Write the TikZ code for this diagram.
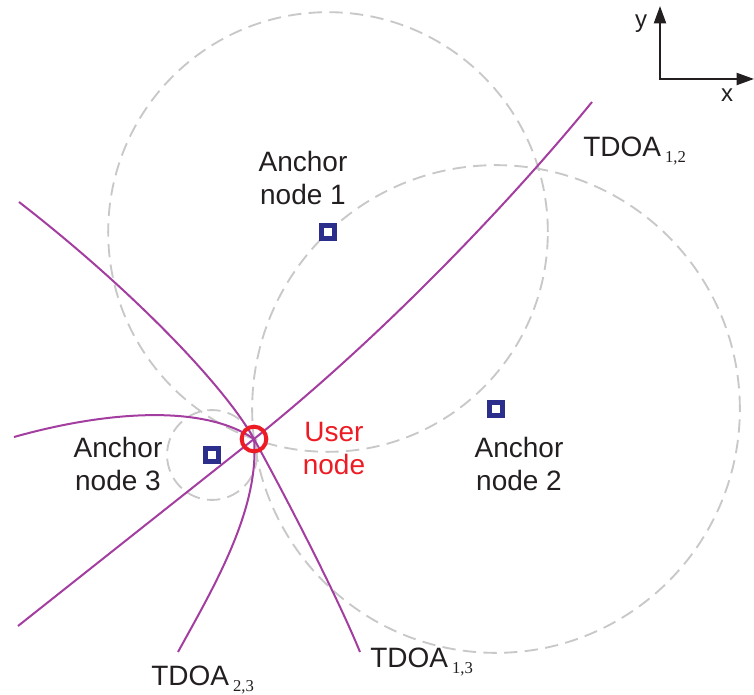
\documentclass[tikz,border=0pt]{standalone}
\usepackage{fontspec}
\setmainfont{Liberation Sans}
\newfontfamily\subfont{Liberation Serif}
\usepackage{tikz}
\usetikzlibrary{arrows.meta, positioning, through, backgrounds}

\definecolor{anchorblue}{RGB}{43,46,138}
\definecolor{userred}{RGB}{237,28,36}
\definecolor{tdoapurple}{RGB}{163,62,160}
\definecolor{ringgray}{RGB}{200,200,200}
\definecolor{textblack}{RGB}{35,31,32}

\begin{document}
\begin{tikzpicture}[
  x=0.75pt, y=-0.75pt,
  anchornode/.style={draw=anchorblue, line width=3.8pt, fill=white, rectangle, minimum size=10.4pt, inner sep=0pt},
  usernode/.style={draw=userred, line width=3pt, circle, minimum size=18.5pt, inner sep=0pt},
  ring/.style={draw=ringgray, line width=1.4pt, dash pattern=on 10pt off 5.5pt},
  tdoa/.style={draw=tdoapurple, line width=1.5pt},
  lbl/.style={inner sep=0pt, align=center, text=textblack, font=\fontsize{21}{24.75}\selectfont},
  axis/.style={draw=textblack, line width=1.5pt, {Triangle[length=13pt,width=9pt]}-{Triangle[length=13pt,width=9pt]}}
]
\useasboundingbox (0,0) rectangle (754,695);

% anchors and user
\node[usernode]   (u)  at (254,439) {};
\node[anchornode] (a1) at (328,232) {};
\node[anchornode] (a2) at (496,409) {};
\node[anchornode] (a3) at (212,455) {};

\begin{scope}[on background layer]
  % range circles through the user
  \node[ring, circle through=(u)] (c1) at (a1) {};
  \node[ring, circle through=(u)] (c2) at (a2) {};
  \node[ring, circle through=(u)] (c3) at (a3) {};
  % hyperbolas
  \draw[tdoa] (18,626) -- (u.center) .. controls (384,335) and (512,200) .. (592,102);
  \draw[tdoa] (19,202) .. controls (130,288) and (224,385) .. (u.center)
                       .. controls (280,486) and (335,591) .. (360,652);
  \draw[tdoa] (14,437) .. controls (110,410) and (205,405) .. (u.center)
                       .. controls (260,510) and (212,590) .. (178,652);
\end{scope}

% labels
\node[lbl, anchor=north] (l1) at (303,151)   {Anchor\\node 1};
\node[lbl, anchor=north] (l2) at (519,436.5) {Anchor\\node 2};
\node[lbl, anchor=north] (l3) at (118,436.5) {Anchor\\node 3};
\node[lbl, anchor=north, text=userred] (lu) at (334,422) {User\\node};

\node[lbl, anchor=base west] (t12) at (583,157) {TDOA\hspace{3pt}\raisebox{-4.5pt}{\subfont\fontsize{12.5}{14}\selectfont 1,2}};
\node[lbl, anchor=base west] (t23) at (151,685) {TDOA\hspace{3pt}\raisebox{-4.5pt}{\subfont\fontsize{12.5}{14}\selectfont 2,3}};
\node[lbl, anchor=base west] (t13) at (370,667) {TDOA\hspace{3pt}\raisebox{-4.5pt}{\subfont\fontsize{12.5}{14}\selectfont 1,3}};

% axes
\coordinate (orig) at (660,79);
\coordinate (ytip) at (660,6);
\coordinate (xtip) at (754,79);
\draw[axis] (ytip) -- (orig) -- (xtip);
\node[inner sep=0pt, anchor=base, text=textblack, font=\fontsize{18}{20}\selectfont] (ly) at (641,27.5) {y};
\node[inner sep=0pt, anchor=base, text=textblack, font=\fontsize{18}{20}\selectfont] (lx) at (727,101.7) {x};
\end{tikzpicture}
\end{document}
